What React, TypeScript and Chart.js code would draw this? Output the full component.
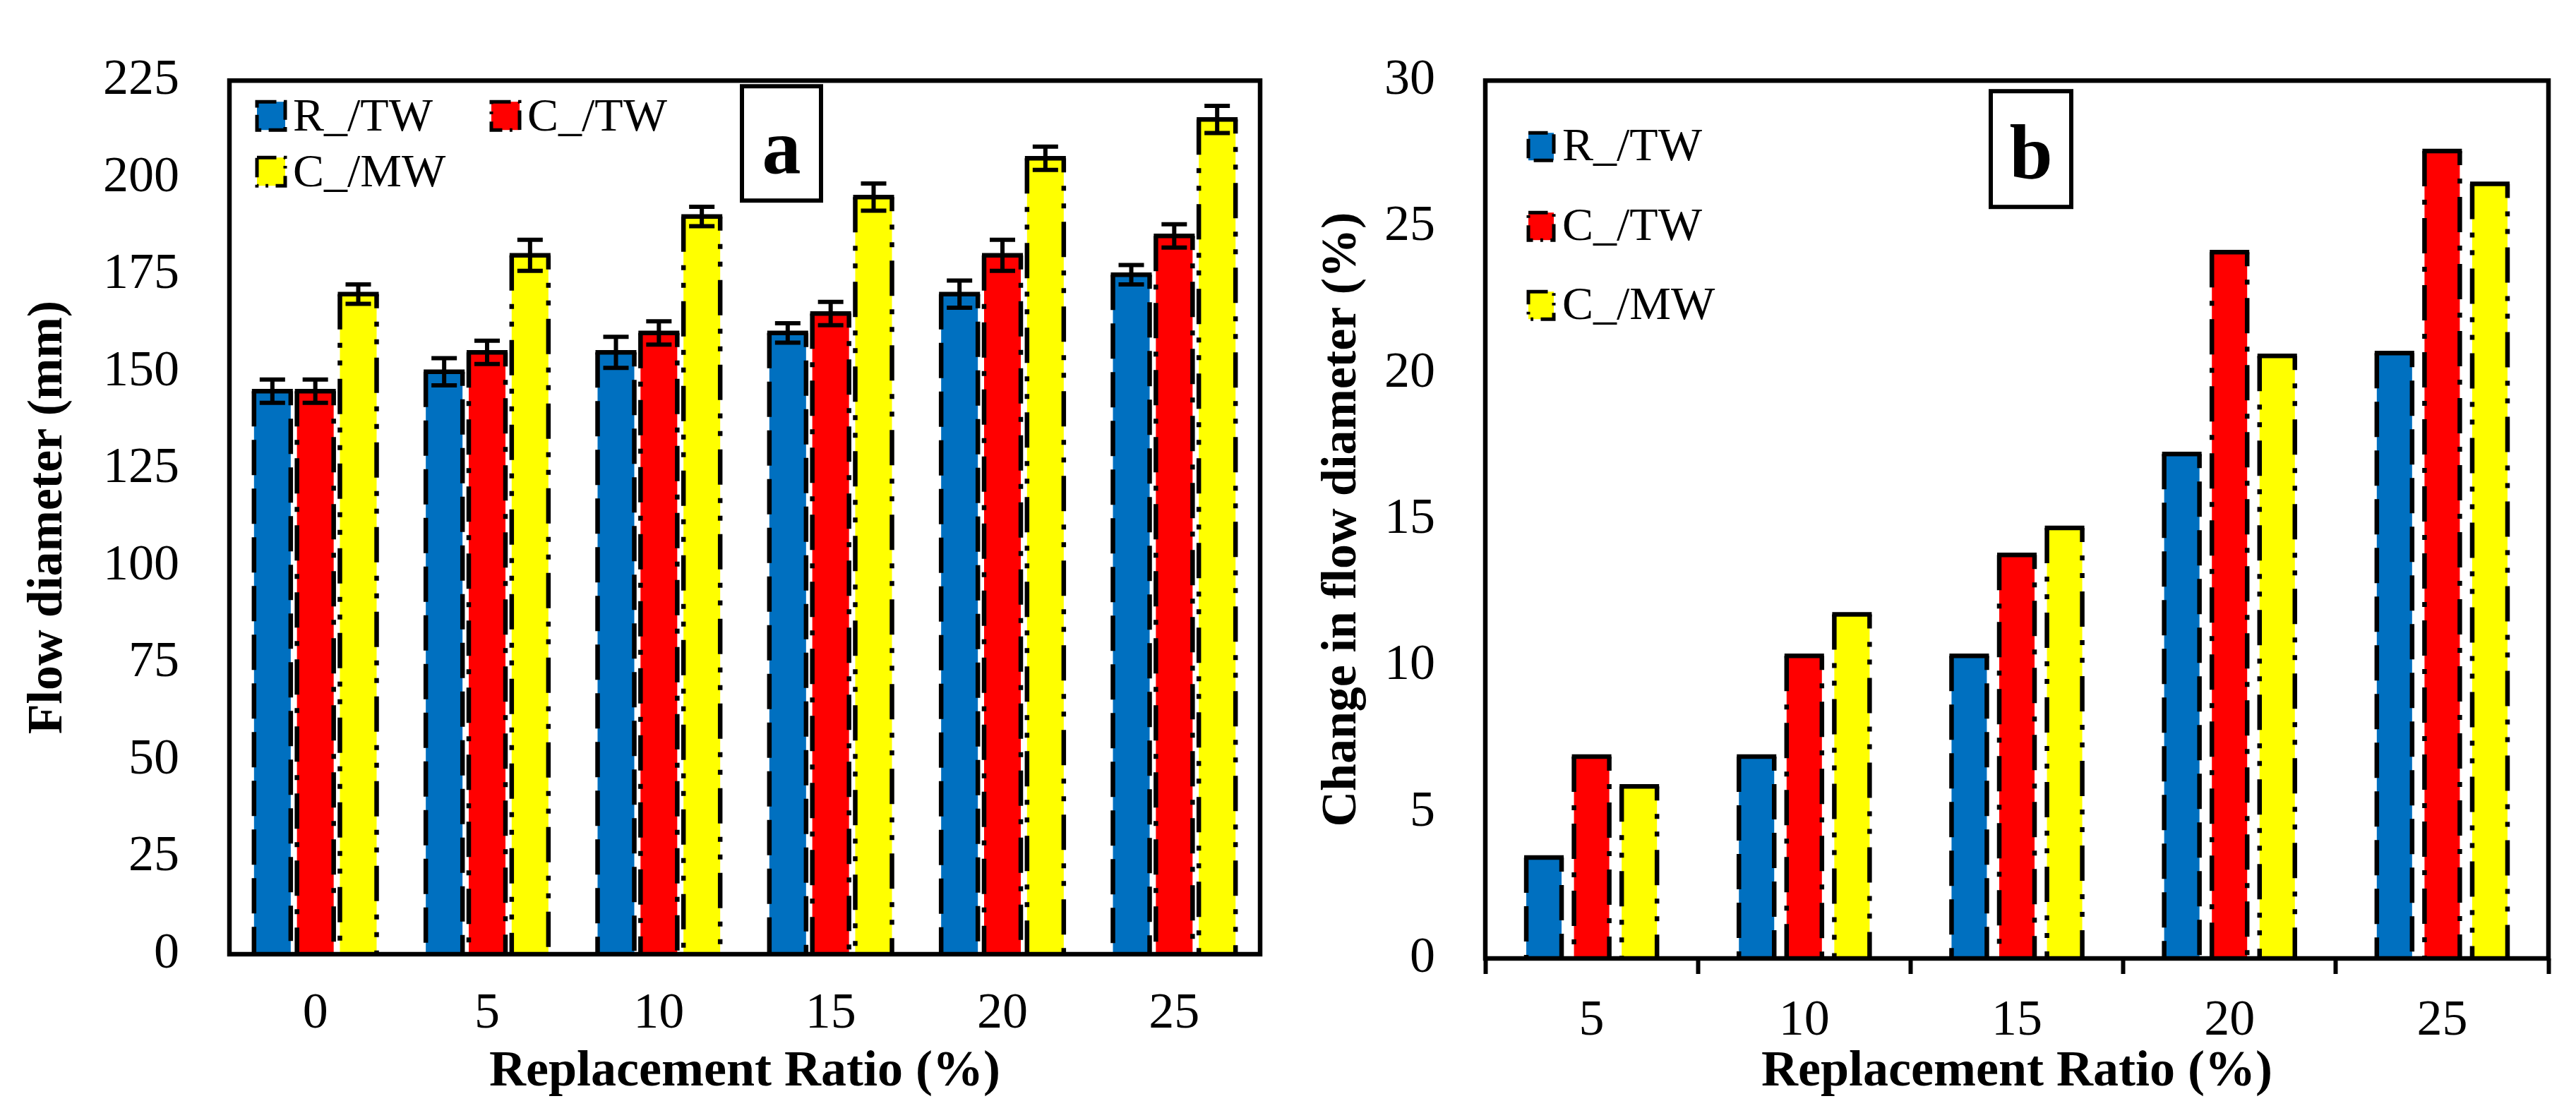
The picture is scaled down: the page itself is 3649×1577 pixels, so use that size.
import { useEffect, useRef } from "react";
import { Chart, registerables } from "chart.js";

Chart.register(...registerables);

// Panel a: flow diameter (mm)
const ratiosA = ["0", "5", "10", "15", "20", "25"];
const flowRTW = [145, 150, 155, 160, 170, 175];
const flowCTW = [145, 155, 160, 165, 180, 185];
const flowCMW = [170, 180, 190, 195, 205, 215];
const flowRTWErr = [3, 3.5, 4, 2.5, 3.5, 2.5];
const flowCTWErr = [3, 3, 3, 3, 4, 3];
const flowCMWErr = [2.5, 4, 2.5, 3.5, 3, 3.5];

// Panel b: change in flow diameter (%)
const ratiosB = ["5", "10", "15", "20", "25"];
const changeRTW = [3.45, 6.9, 10.34, 17.24, 20.69];
const changeCTW = [6.9, 10.34, 13.79, 24.14, 27.59];
const changeCMW = [5.88, 11.76, 14.71, 20.59, 26.47];

const seriesNames = ["R_/TW", "C_/TW", "C_/MW"];
const seriesColors = ["#0070C0", "#FF0000", "#FFFF00"];
// long dash, dash-dot, dash-dot-dot
const seriesDashes = [
  [50, 19],
  [50, 19, 7, 19],
  [50, 19, 7, 18, 7, 19],
];

const FONT = "'Liberation Serif', 'Times New Roman', serif";
const H = 1577;

interface PanelOpts {
  letter: string;
  labels: string[];
  series: number[][];
  errors?: number[][];
  yMax: number;
  yStep: number;
  yTitle: string;
  width: number;
  yAxisWidth: number;
  xAxisHeight: number;
  padRight: number;
  yTitlePad: number;
  xTickPad: number;
  showXTicks: boolean;
  catPct: number;
  barPct: number;
  legend: { dx: number; dy: number }[];
  markerW: number;
  markerH: number;
  textDx: number;
  textBase: number;
  box: { dx: number; dy: number; w: number; h: number; base: number };
}

function makeChart(canvas: HTMLCanvasElement, o: PanelOpts) {
  const overlay = {
    id: "excelLook",
    afterDatasetsDraw(chart: any) {
      const ctx = chart.ctx;
      const y = chart.scales.y;
      ctx.save();
      ctx.strokeStyle = "#000";
      ctx.lineWidth = 6.5;
      chart.data.datasets.forEach((_: any, di: number) => {
        const meta = chart.getDatasetMeta(di);
        meta.data.forEach((bar: any, i: number) => {
          const p = bar.getProps(["x", "y", "base", "width"], true);
          const l = p.x - p.width / 2;
          const r = p.x + p.width / 2;
          ctx.setLineDash([]);
          ctx.beginPath();
          ctx.moveTo(l - 3, p.y);
          ctx.lineTo(r + 3, p.y);
          ctx.stroke();
          ctx.setLineDash(seriesDashes[di]);
          ctx.lineDashOffset = 0;
          ctx.beginPath();
          ctx.moveTo(l, p.y);
          ctx.lineTo(l, p.base);
          ctx.stroke();
          ctx.lineDashOffset = 30;
          ctx.beginPath();
          ctx.moveTo(r, p.y);
          ctx.lineTo(r, p.base);
          ctx.stroke();
          if (o.errors) {
            const v = o.series[di][i];
            const e = o.errors[di][i];
            const yHi = y.getPixelForValue(v + e);
            const yLo = y.getPixelForValue(v - e);
            ctx.setLineDash([]);
            ctx.lineWidth = 6;
            ctx.beginPath();
            ctx.moveTo(p.x, yHi);
            ctx.lineTo(p.x, yLo);
            ctx.moveTo(p.x - 18, yHi);
            ctx.lineTo(p.x + 18, yHi);
            ctx.moveTo(p.x - 18, yLo);
            ctx.lineTo(p.x + 18, yLo);
            ctx.stroke();
            ctx.lineWidth = 6.5;
          }
        });
      });
      ctx.restore();
    },
    afterDraw(chart: any) {
      const ctx = chart.ctx;
      const a = chart.chartArea;
      ctx.save();
      ctx.setLineDash([]);
      ctx.strokeStyle = "#000";
      ctx.lineWidth = 6.5;
      ctx.strokeRect(a.left, a.top, a.right - a.left, a.bottom - a.top);

      // legend
      ctx.font = `66px ${FONT}`;
      ctx.textBaseline = "alphabetic";
      ctx.textAlign = "left";
      o.legend.forEach((pos, k) => {
        const mx = a.left + pos.dx;
        const my = a.top + pos.dy;
        ctx.fillStyle = seriesColors[k];
        ctx.fillRect(mx, my, o.markerW, o.markerH);
        ctx.lineWidth = 5;
        ctx.setLineDash(seriesDashes[k].map((d) => d * 0.55));
        ctx.strokeRect(mx, my, o.markerW, o.markerH);
        ctx.setLineDash([]);
        ctx.fillStyle = "#000";
        ctx.fillText(seriesNames[k], mx + o.textDx, my + o.textBase);
      });

      // panel letter box
      const bx = a.left + o.box.dx;
      const by = a.top + o.box.dy;
      ctx.lineWidth = 6;
      ctx.strokeRect(bx, by, o.box.w, o.box.h);
      ctx.font = `bold 110px ${FONT}`;
      ctx.textAlign = "center";
      ctx.fillText(o.letter, bx + o.box.w / 2, by + o.box.base);
      ctx.restore();
    },
  };

  return new Chart(canvas, {
    type: "bar",
    data: {
      labels: o.labels,
      datasets: o.series.map((d, k) => ({
        label: seriesNames[k],
        data: d,
        backgroundColor: seriesColors[k],
        borderWidth: 0,
        categoryPercentage: o.catPct,
        barPercentage: o.barPct,
      })),
    },
    options: {
      animation: false,
      responsive: false,
      devicePixelRatio: 1,
      layout: {
        autoPadding: false,
        padding: { top: 57, right: o.padRight, left: 0, bottom: 0 },
      },
      plugins: {
        legend: { display: false },
        tooltip: { enabled: false },
      },
      scales: {
        x: {
          offset: true,
          grid: {
            display: o.showXTicks,
            offset: true,
            drawOnChartArea: false,
            drawTicks: o.showXTicks,
            tickLength: 22,
            tickWidth: 6,
            tickColor: "#000",
            color: "#000",
          },
          border: { display: false },
          ticks: {
            color: "#000",
            font: { family: FONT, size: 72 },
            padding: o.xTickPad,
            maxRotation: 0,
          },
          title: {
            display: true,
            text: "Replacement Ratio (%)",
            color: "#000",
            font: { family: FONT, size: 72, weight: "bold" },
            padding: { top: 0, bottom: 14 },
          },
          afterFit(scale: any) {
            scale.height = o.xAxisHeight;
          },
        },
        y: {
          min: 0,
          max: o.yMax,
          grid: { display: false, drawTicks: false },
          border: { display: false },
          ticks: {
            stepSize: o.yStep,
            color: "#000",
            font: { family: FONT, size: 72 },
            padding: 71,
          },
          title: {
            display: true,
            text: o.yTitle,
            color: "#000",
            font: { family: FONT, size: 70, weight: "bold" },
            padding: { top: o.yTitlePad, bottom: 0 },
          },
          afterFit(scale: any) {
            scale.width = o.yAxisWidth;
          },
        },
      },
    },
    plugins: [overlay],
  } as any);
}

const panelA: PanelOpts = {
  letter: "a",
  labels: ratiosA,
  series: [flowRTW, flowCTW, flowCMW],
  errors: [flowRTWErr, flowCTWErr, flowCMWErr],
  yMax: 225,
  yStep: 25,
  yTitle: "Flow diameter (mm)",
  width: 1830,
  yAxisWidth: 325,
  xAxisHeight: 225,
  padRight: 45,
  yTitlePad: 27,
  xTickPad: 42,
  showXTicks: false,
  catPct: 0.75,
  barPct: 0.855,
  legend: [
    { dx: 39, dy: 30 },
    { dx: 371, dy: 30 },
    { dx: 39, dy: 109 },
  ],
  markerW: 40,
  markerH: 40,
  textDx: 51,
  textBase: 41,
  box: { dx: 726, dy: 8, w: 112, h: 162, base: 123 },
};

const panelB: PanelOpts = {
  letter: "b",
  labels: ratiosB,
  series: [changeRTW, changeCTW, changeCMW],
  yMax: 30,
  yStep: 5,
  yTitle: "Change in flow diameter (%)",
  width: 1819,
  yAxisWidth: 274,
  xAxisHeight: 219,
  padRight: 39,
  yTitlePad: 30,
  xTickPad: 24,
  showXTicks: true,
  catPct: 0.673,
  barPct: 0.74,
  legend: [
    { dx: 61, dy: 74 },
    { dx: 61, dy: 187 },
    { dx: 61, dy: 299 },
  ],
  markerW: 36,
  markerH: 39,
  textDx: 48,
  textBase: 39,
  box: { dx: 716, dy: 15, w: 114, h: 164, base: 124 },
};

function Panel({ opts, left }: { opts: PanelOpts; left: number }) {
  const ref = useRef<HTMLCanvasElement>(null);
  useEffect(() => {
    if (!ref.current) return;
    const chart = makeChart(ref.current, opts);
    return () => chart.destroy();
  }, [opts]);
  return (
    <canvas
      ref={ref}
      width={opts.width}
      height={H}
      style={{ position: "absolute", left, top: 0, width: opts.width, height: H }}
    />
  );
}

export default function App() {
  return (
    <div
      style={{
        position: "fixed",
        left: 0,
        top: 0,
        width: 3649,
        height: H,
        background: "#fff",
        overflow: "hidden",
      }}
    >
      <Panel opts={panelA} left={0} />
      <Panel opts={panelB} left={1830} />
    </div>
  );
}
